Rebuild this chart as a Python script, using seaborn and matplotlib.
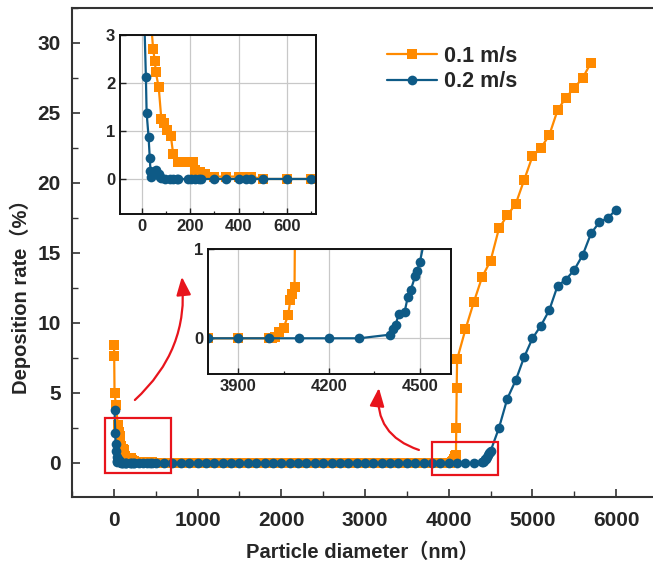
import matplotlib
matplotlib.use("Agg")
import matplotlib.pyplot as plt
from matplotlib.patches import Rectangle
from matplotlib.ticker import MultipleLocator
import seaborn as sns

# ---------------------------------------------------------------------------
# Deposition rate (%) versus particle diameter (nm) for two inlet velocities
# ---------------------------------------------------------------------------
labels = ["0.1 m/s", "0.2 m/s"]

diam_01 = [2, 4, 8, 25, 47, 54, 58, 70, 81, 91, 105, 120, 130, 150, 190, 210,
           220, 240, 260, 300, 350, 400, 420, 450, 500, 600, 700,
           800, 900, 1000, 1100, 1200, 1300, 1400, 1500, 1600, 1700, 1800,
           1900, 2000, 2100, 2200, 2300, 2400, 2500, 2600, 2700, 2800, 2900,
           3000, 3100, 3200, 3300, 3400, 3500, 3600, 3700, 3800, 3900, 4000,
           4010, 4020, 4035, 4050, 4065, 4072, 4079, 4086, 4090, 4095, 4100,
           4200, 4300, 4400, 4500, 4600, 4700, 4800, 4900, 5000, 5100, 5200,
           5300, 5400, 5500, 5600, 5700]
rate_01 = [8.43, 7.64, 5.02, 4.14, 2.70, 2.46, 2.22, 1.91, 1.24, 1.16, 1.02,
           0.90, 0.51, 0.36, 0.36, 0.36, 0.19, 0.15, 0.10, 0.05, 0.05, 0.05,
           0.05, 0.05, 0.0, 0.0, 0.0,
           0.0, 0.0, 0.0, 0.0, 0.0, 0.0, 0.0, 0.0, 0.0, 0.0, 0.0,
           0.0, 0.0, 0.0, 0.0, 0.0, 0.0, 0.0, 0.0, 0.0, 0.0, 0.0,
           0.0, 0.0, 0.0, 0.0, 0.0, 0.0, 0.0, 0.0, 0.0, 0.0, 0.0,
           0.0, 0.02, 0.07, 0.12, 0.26, 0.43, 0.50, 0.58, 2.48, 5.33, 7.40,
           9.55, 11.5, 13.3, 14.45, 16.75, 17.7, 18.5, 20.2, 21.9, 22.5, 23.4,
           25.2, 26.1, 26.8, 27.5, 28.6]

diam_02 = [8, 17, 20, 28, 33, 36, 40, 50, 60, 70, 75, 80, 95, 115, 130, 145,
           150, 190, 205, 220, 235, 245, 300, 350, 400, 430, 450, 500, 600, 700,
           800, 900, 1000, 1100, 1200, 1300, 1400, 1500, 1600, 1700, 1800,
           1900, 2000, 2100, 2200, 2300, 2400, 2500, 2600, 2700, 2800, 2900,
           3000, 3100, 3200, 3300, 3400, 3500, 3600, 3700, 3800, 3900, 4000,
           4100, 4200, 4300, 4400, 4410, 4420, 4430, 4450, 4460, 4470, 4485,
           4490, 4500, 4600, 4700, 4800, 4900, 5000, 5100, 5200, 5300, 5400,
           5500, 5600, 5700, 5800, 5900, 6000]
rate_02 = [3.79, 2.12, 1.38, 0.88, 0.44, 0.17, 0.05, 0.15, 0.19, 0.10, 0.05,
           0.02, 0.0, 0.0, 0.0, 0.0, 0.0, 0.0, 0.0, 0.0, 0.0, 0.0, 0.0, 0.0,
           0.0, 0.0, 0.0, 0.0, 0.0, 0.0,
           0.0, 0.0, 0.0, 0.0, 0.0, 0.0, 0.0, 0.0, 0.0, 0.0, 0.0,
           0.0, 0.0, 0.0, 0.0, 0.0, 0.0, 0.0, 0.0, 0.0, 0.0, 0.0,
           0.0, 0.0, 0.0, 0.0, 0.0, 0.0, 0.0, 0.0, 0.0, 0.0, 0.0,
           0.0, 0.0, 0.0, 0.04, 0.10, 0.15, 0.27, 0.30, 0.46, 0.54, 0.70,
           0.75, 0.85, 2.5, 4.6, 5.9, 7.55, 8.9, 9.8, 10.9, 12.65, 13.1,
           13.8, 14.85, 16.4, 17.2, 17.5, 18.1]

x_ticks_main = [0, 1000, 2000, 3000, 4000, 5000, 6000]
y_ticks_main = [0, 5, 10, 15, 20, 25, 30]
x_ticks_low = [0, 200, 400, 600]
y_ticks_low = [0, 1, 2, 3]
x_ticks_mid = [3900, 4200, 4500]
y_ticks_mid = [0, 1]

ORANGE = "#FF8A00"
BLUE = "#0E5A86"
RED = "#E8141C"

sns.set_theme(style="ticks")
plt.rcParams["font.family"] = ["Liberation Sans", "Noto Sans CJK SC"]
plt.rcParams["font.weight"] = "bold"
plt.rcParams["axes.labelweight"] = "bold"

W, H = 653, 566
fig = plt.figure(figsize=(W / 100, H / 100), dpi=100)


def px_axes(left, top, right, bottom):
    return fig.add_axes([left / W, 1 - bottom / H, (right - left) / W,
                         (bottom - top) / H])


def draw_series(ax, ms_sq=6.5, ms_ci=7.0, lw=1.6):
    sns.lineplot(x=diam_01, y=rate_01, ax=ax, color=ORANGE, marker="s",
                 markersize=ms_sq, markeredgewidth=0, linewidth=lw,
                 sort=False, estimator=None, label=labels[0], legend=False)
    sns.lineplot(x=diam_02, y=rate_02, ax=ax, color=BLUE, marker="o",
                 markersize=ms_ci, markeredgewidth=0, linewidth=lw,
                 sort=False, estimator=None, label=labels[1], legend=False)


# ---- main axes -------------------------------------------------------------
ax = px_axes(72, 8, 653, 497)
draw_series(ax)
ax.set_xlim(-500, 6440)
ax.set_ylim(-2.43, 32.5)
ax.set_xticks(x_ticks_main)
ax.set_yticks(y_ticks_main)
ax.xaxis.set_minor_locator(MultipleLocator(500))
ax.yaxis.set_minor_locator(MultipleLocator(2.5))
ax.tick_params(which="major", direction="in", length=6, width=1.2,
               labelsize=15, color="#333333")
ax.tick_params(axis="x", which="major", pad=10)
ax.tick_params(axis="y", which="major", pad=8)
ax.tick_params(which="minor", direction="in", length=4, width=1.0,
               color="#333333")
for s in ("left", "bottom", "top"):
    ax.spines[s].set_linewidth(1.5)
    ax.spines[s].set_color("#333333")
ax.spines["right"].set_visible(False)
for t in ax.get_xticklabels() + ax.get_yticklabels():
    t.set_fontweight("bold")
ax.set_xlabel("Particle diameter（nm）", fontsize=14.5, fontweight="bold",
              va="center")
ax.set_ylabel("Deposition rate（%）", fontsize=14.5, fontweight="bold")
ax.xaxis.set_label_coords(0.5, -0.113)
ax.yaxis.set_label_coords(-0.07, 0.42)

# zoom frames marking the inset regions
ax.add_patch(Rectangle((-110, -0.72), 790, 3.93, fill=False, edgecolor=RED,
                       linewidth=1.6, zorder=5))
ax.add_patch(Rectangle((3796, -0.86), 794, 2.38, fill=False, edgecolor=RED,
                       linewidth=1.6, zorder=5))

arrow_style = "-|>,head_length=0.55,head_width=0.22"
ax.annotate("", xy=(812, 13.3), xytext=(251, 4.5),
            arrowprops=dict(arrowstyle=arrow_style, color=RED, lw=1.6,
                            mutation_scale=20, shrinkA=0, shrinkB=0,
                            connectionstyle="arc3,rad=0.25"))
ax.annotate("", xy=(3166, 5.36), xytext=(3644, 0.93),
            arrowprops=dict(arrowstyle=arrow_style, color=RED, lw=1.6,
                            mutation_scale=20, shrinkA=0, shrinkB=0,
                            connectionstyle="arc3,rad=-0.4"))


def style_inset(ax_in):
    ax_in.grid(True, color="#c8c8c8", linewidth=0.9)
    ax_in.set_axisbelow(True)
    ax_in.tick_params(which="major", direction="in", length=4, width=1.0,
                      labelsize=12, pad=3.5, color="#222222")
    ax_in.tick_params(which="minor", direction="in", length=2.5, width=0.9,
                      color="#222222")
    for s in ax_in.spines.values():
        s.set_linewidth(1.4)
        s.set_color("#111111")
    for t in ax_in.get_xticklabels() + ax_in.get_yticklabels():
        t.set_fontweight("bold")
    ax_in.set_xlabel("")
    ax_in.set_ylabel("")
    ax_in.set_facecolor("white")


# ---- inset: small particles -------------------------------------------------
ax1 = px_axes(120, 35, 316, 214)
draw_series(ax1)
ax1.set_xlim(-90, 720)
ax1.set_ylim(-0.73, 3)
ax1.set_xticks(x_ticks_low)
ax1.set_yticks(y_ticks_low)
ax1.xaxis.set_minor_locator(MultipleLocator(100))
style_inset(ax1)

# ---- inset: onset of deposition for large particles -------------------------
ax2 = px_axes(208, 249, 451, 374)
draw_series(ax2)
ax2.set_xlim(3800, 4603)
ax2.set_ylim(-0.4, 1)
ax2.set_xticks(x_ticks_mid)
ax2.set_yticks(y_ticks_mid)
ax2.xaxis.set_minor_locator(MultipleLocator(150))
style_inset(ax2)

# ---- legend -----------------------------------------------------------------
handles = ax.get_lines()[:2]
fig.legend(handles, labels, loc="upper left",
           bbox_to_anchor=(387 / W, 1 - 46 / H), frameon=False,
           prop=dict(size=15.5, weight="bold"), handlelength=2.3,
           handletextpad=0.35, labelspacing=0.2, borderaxespad=0,
           borderpad=0)

fig.savefig("out.png", dpi=100)
